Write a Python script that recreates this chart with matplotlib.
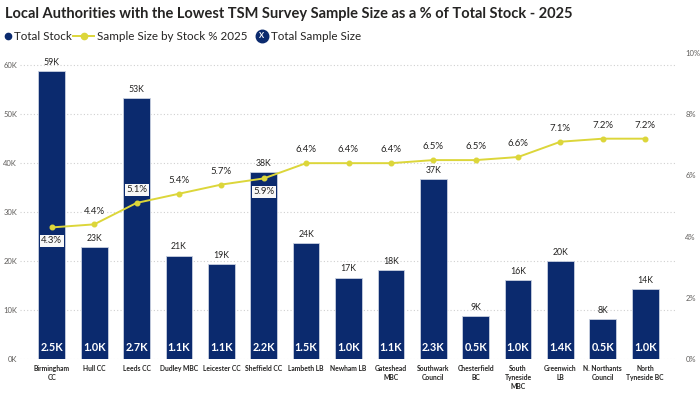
import matplotlib
matplotlib.use("Agg")
import matplotlib.pyplot as plt
from matplotlib.lines import Line2D
from matplotlib.ticker import FuncFormatter, MultipleLocator

plt.rcParams['font.family'] = ['Lato', 'DejaVu Sans']

categories = ["Birmingham\nCC", "Hull CC", "Leeds CC", "Dudley MBC", "Leicester CC",
              "Sheffield CC", "Lambeth LB", "Newham LB", "Gateshead\nMBC", "Southwark\nCouncil",
              "Chesterfield\nBC", "South\nTyneside\nMBC", "Greenwich\nLB", "N. Northants\nCouncil",
              "North\nTyneside BC"]
total_stock = [58800, 22900, 53200, 21100, 19400, 38100, 23600, 16600, 18200, 36700,
               8800, 16100, 20000, 8100, 14200]
stock_labels = ["59K", "23K", "53K", "21K", "19K", "38K", "24K", "17K", "18K", "37K",
                "9K", "16K", "20K", "8K", "14K"]
sample_size_labels = ["2.5K", "1.0K", "2.7K", "1.1K", "1.1K", "2.2K", "1.5K", "1.0K",
                      "1.1K", "2.3K", "0.5K", "1.0K", "1.4K", "0.5K", "1.0K"]
pct = [4.3, 4.4, 5.1, 5.4, 5.7, 5.9, 6.4, 6.4, 6.4, 6.5, 6.5, 6.6, 7.1, 7.2, 7.2]
pct_label_below = [True, False, False, False, False, True, False, False, False, False,
                   False, False, False, False, False]

NAVY = "#0B2A6E"
YELLOW = "#DCD63A"
DARK = "#252423"
GREY = "#605E5C"

fig = plt.figure(figsize=(7.0, 3.99), dpi=100)
W, H = 700, 399
ax = fig.add_axes([20 / W, (H - 359) / H, 657 / W, 306 / H])
ax2 = ax.twinx()

x = list(range(len(categories)))
ax.bar(x, total_stock, width=0.63, color=NAVY, edgecolor="#c9d0e0", linewidth=0.6, zorder=2)
ax.set_xlim(-0.75, 14.75)
ax.set_ylim(0, 62450)
ax.yaxis.set_major_locator(MultipleLocator(10000))
ax.yaxis.set_major_formatter(FuncFormatter(lambda v, p: f"{int(v/1000)}K"))
ax.grid(axis="y", linestyle=(0, (1, 2)), color="#d0d0d0", linewidth=0.8, zorder=0)
ax.set_axisbelow(True)
for s in ax.spines.values():
    s.set_visible(False)
for s in ax2.spines.values():
    s.set_visible(False)
ax.tick_params(axis="y", length=0, labelsize=5.5, labelcolor=GREY, pad=2)
ax.tick_params(axis="x", length=0, pad=4)
ax.set_xticks(x)
ax.set_xticklabels(categories, fontsize=4.9, fontweight="bold", color=DARK, linespacing=1.35, va="top")

for i, v in enumerate(total_stock):
    ax.annotate(stock_labels[i], (i, v), xytext=(0, 3), textcoords="offset points",
                ha="center", va="bottom", fontsize=6.3, color=DARK, zorder=3)
    ax.annotate(sample_size_labels[i], (i, 0), xytext=(0, 8.5), textcoords="offset points",
                ha="center", va="center", fontsize=7.8, fontweight="bold", color="white", zorder=3)

ax2.set_ylim(0, 10)
ax2.yaxis.set_major_locator(MultipleLocator(2))
ax2.yaxis.set_major_formatter(FuncFormatter(lambda v, p: f"{int(v)}%"))
ax2.tick_params(axis="y", length=0, labelsize=5.5, labelcolor=GREY, pad=6)
ax2.plot(x, pct, color=YELLOW, linewidth=1.4, marker="o", markersize=3.3, zorder=4)
for i, p in enumerate(pct):
    off = -9.5 if pct_label_below[i] else 9.5
    ax2.annotate(f"{p:.1f}%", (i, p), xytext=(0, off), textcoords="offset points",
                 ha="center", va="center", fontsize=6.9, color=DARK, zorder=5,
                 bbox=dict(boxstyle="square,pad=0.15", fc="#f8f8f8" if pct_label_below[i] or i == 2 else "white",
                           ec="none"))

# Title
fig.text(5 / W, 1 - 14 / H, "Local Authorities with the Lowest TSM Survey Sample Size as a % of Total Stock - 2025",
         fontsize=10.5, fontweight="bold", color=DARK, ha="left", va="center")

# Legend
ly = 1 - 36 / H
fig.add_artist(Line2D([8 / W], [ly], marker="o", markersize=4.5, color=NAVY, linestyle="none",
                      transform=fig.transFigure))
fig.text(14 / W, ly, "Total Stock", fontsize=8.4, color=DARK, ha="left", va="center")
fig.add_artist(Line2D([73 / W, 94 / W], [ly, ly], color=YELLOW, linewidth=1.4, transform=fig.transFigure))
fig.add_artist(Line2D([83.5 / W], [ly], marker="o", markersize=4.5, color=YELLOW, linestyle="none",
                      transform=fig.transFigure))
fig.text(97 / W, ly, "Sample Size by Stock % 2025", fontsize=8.4, color=DARK, ha="left", va="center")
fig.add_artist(Line2D([262 / W], [ly], marker="o", markersize=9, color=NAVY, linestyle="none",
                      transform=fig.transFigure))
fig.text(262 / W, ly, "X", fontsize=5.5, fontweight="bold", color="white", ha="center", va="center")
fig.text(271 / W, ly, "Total Sample Size", fontsize=8.4, color=DARK, ha="left", va="center")

fig.savefig("out.png", dpi=100)
